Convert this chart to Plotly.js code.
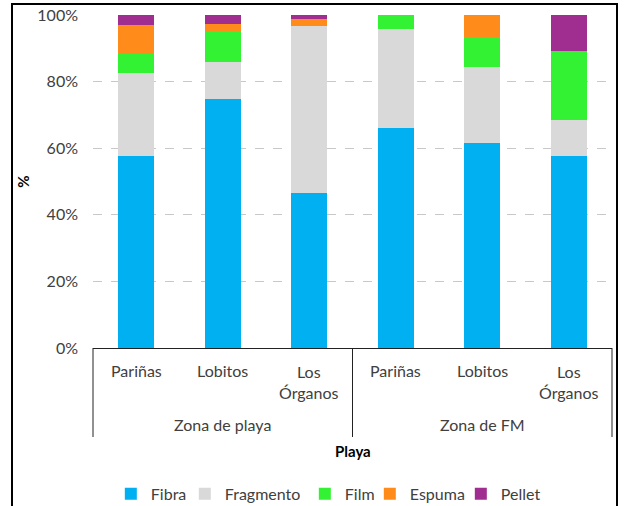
<!DOCTYPE html>
<html>
<head>
<meta charset="utf-8">
<script src="https://cdn.plot.ly/plotly-3.0.1.min.js"></script>
<style>
html,body{margin:0;padding:0;background:#fff;}
#wrap{position:relative;width:624px;height:506px;overflow:hidden;}
#chart{width:624px;height:506px;}
#frame{position:absolute;left:11px;top:3px;width:603px;height:560px;border:2px solid #000;pointer-events:none;}
</style>
</head>
<body>
<div id="wrap"><div id="chart"></div><div id="frame"></div></div>
<script>
const zoneNames = ["Zona de playa","Zona de FM"];
const beaches = ["Pariñas","Lobitos","Los<br>Órganos"];
const categories = ["Pariñas|playa","Lobitos|playa","Los Órganos|playa","Pariñas|FM","Lobitos|FM","Los Órganos|FM"];
const catLabels = [beaches[0],beaches[1],beaches[2],beaches[0],beaches[1],beaches[2]];
const fibra = [57.7, 74.8, 46.5, 66.1, 61.6, 57.7];
const fragmento = [24.9, 11.0, 50.1, 29.7, 22.8, 10.8];
const film = [5.7, 9.5, 0.0, 4.2, 9.0, 20.8];
const espuma = [8.7, 2.1, 2.3, 0.0, 6.6, 0.0];
const pellet = [3.0, 2.6, 1.1, 0.0, 0.0, 10.7];

const seriesNames = ["Fibra","Fragmento","Film","Espuma","Pellet"];
const seriesVals = [fibra, fragmento, film, espuma, pellet];
const colors = ["#00B0F0","#D9D9D9","#33F233","#FF8C1A","#A02E91"];
const legendWidths = [29, 75, 20, 46, 40];

const traces = seriesNames.map((n,i)=>({
  type:"bar", name:n, x:categories, y:seriesVals[i].map(v=>v/100),
  marker:{color:colors[i]}, width:0.42, hoverinfo:"y+name",
  legendwidth:legendWidths[i]
}));

const plotH = 333;
const py = pix => -(pix - 348)/plotH;
const lblColor = "#404040";
const annotations = [];
categories.forEach((c,i)=>{
  const twoLine = catLabels[i].indexOf("<br>")>=0;
  annotations.push({x:c, xref:"x", y: twoLine ? py(381.5) : py(371), yref:"paper",
    yanchor:"middle", xanchor:"center", text:catLabels[i], showarrow:false,
    font:{size:16,color:lblColor}});
});
zoneNames.forEach((z,i)=>{
  annotations.push({x:0.25+0.5*i, xref:"paper", y:py(424), yref:"paper", yanchor:"middle",
    xanchor:"center", text:z, showarrow:false, font:{size:16,color:lblColor}});
});
annotations.push({x:0.5, xref:"paper", y:py(451), yref:"paper", yanchor:"middle",
  xanchor:"center", text:"<b>Playa</b>", showarrow:false, font:{size:15,color:"#000"}});

const shapes = [0,0.5,1].map(xp=>({type:"line", xref:"paper", yref:"paper",
  x0:xp, x1:xp, y0:0, y1:py(437), line:{color:"#222", width:1}}));

const font = {family:"Lato, 'Noto Sans', sans-serif", size:16, color:"#404040"};
const layout = {
  width:624, height:506, barmode:"stack", showlegend:true,
  margin:{l:93, r:12, t:15, b:158},
  paper_bgcolor:"#fff", plot_bgcolor:"#fff",
  font:font,
  xaxis:{type:"category", showline:true, linecolor:"#222", linewidth:1,
    showticklabels:false, ticks:"", automargin:false, range:[-0.5,5.5]},
  yaxis:{range:[0,1], tickformat:".0%", dtick:0.2, showgrid:true,
    gridcolor:"#C8C8C8", griddash:"dash", gridwidth:1, zeroline:false,
    showline:false, tickfont:{size:16,color:lblColor}, ticks:"", ticklabelstandoff:14,
    automargin:false,
    title:{text:"<b>%</b>", font:{size:15,color:"#000"}, standoff:4}},
  annotations:annotations,
  shapes:shapes,
  legend:{orientation:"h", x:0.1776, xanchor:"left", xref:"container",
    y:0.024, yanchor:"middle", yref:"container",
    font:{size:16,color:lblColor}, traceorder:"normal", itemwidth:30}
};
Plotly.newPlot("chart", traces, layout, {displayModeBar:false, staticPlot:true});
</script>
</body>
</html>
